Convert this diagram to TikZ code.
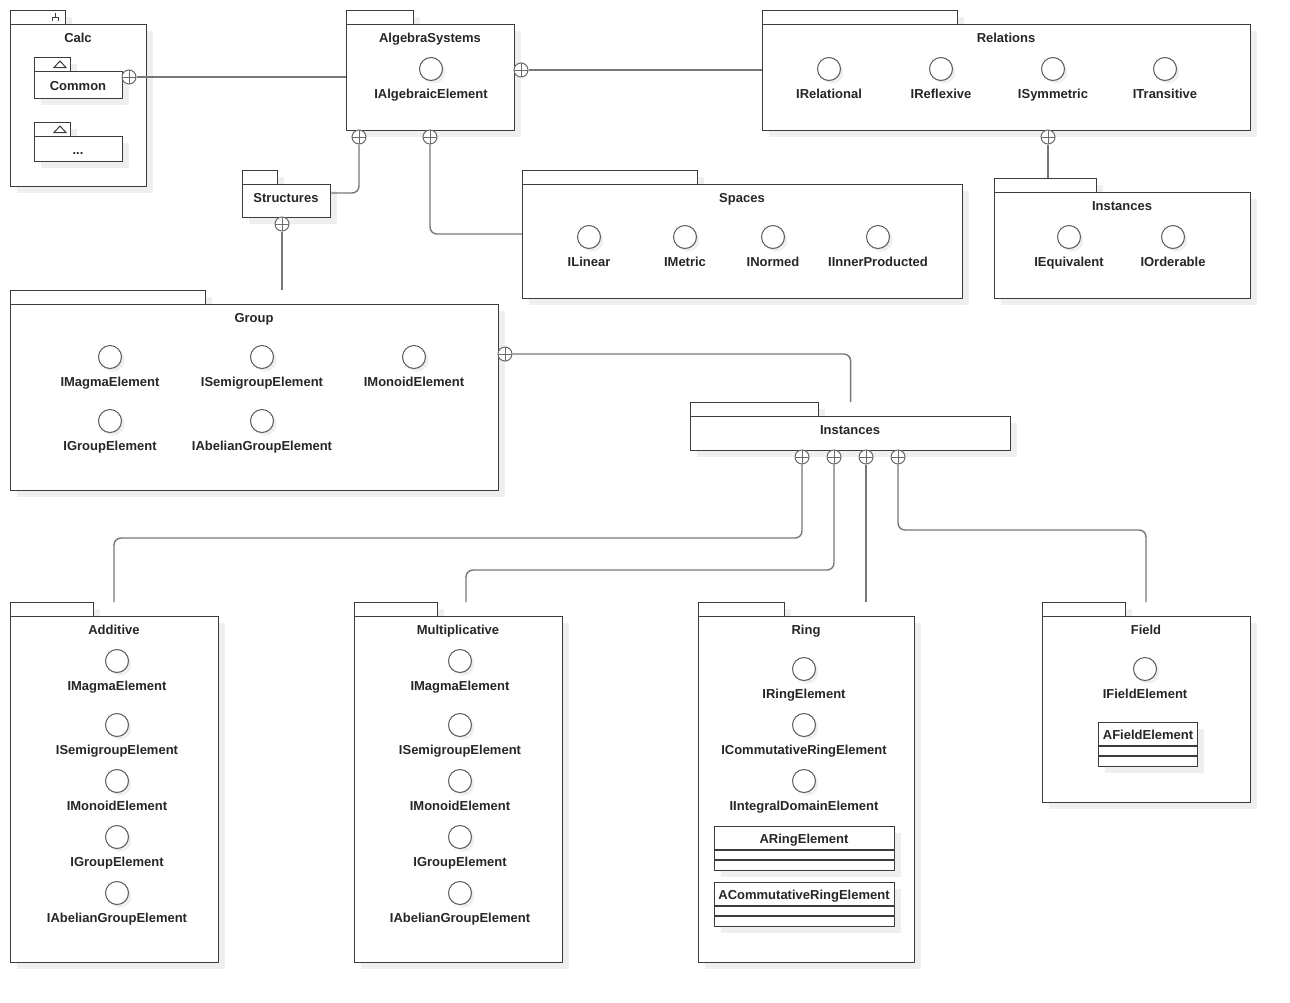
\documentclass[tikz,border=0pt]{standalone}
\usepackage{fontspec}
\setmainfont{Liberation Sans}
\usetikzlibrary{shadows,calc}
\definecolor{bord}{HTML}{3C3C3C}
\definecolor{conncol}{HTML}{777777}
\definecolor{shad}{HTML}{EFEFEF}
\tikzset{
  shd/.style={drop shadow={shadow xshift=6pt,shadow yshift=-6pt,fill=shad,opacity=1}},
  box/.style={draw=bord,line width=1.3pt,fill=white,shd,rectangle,inner sep=0pt,anchor=north west},
  ttl/.style={font=\fontsize{13}{15}\selectfont\bfseries,text=black!85,inner sep=0pt,text height=9.5pt,text depth=2.5pt,yshift=-2pt},
  lbl/.style={ttl},
  ifc/.style={circle,draw=bord!85,line width=1pt,fill=white,minimum size=23pt,inner sep=0pt,
    drop shadow={shadow xshift=3pt,shadow yshift=-3pt,fill=shad,opacity=1}},
  ctn/.style={circle,draw=conncol!90!black,line width=1pt,fill=white,minimum size=14pt,inner sep=0pt,
    path picture={\draw[conncol!90!black,line width=1pt] (path picture bounding box.north) -- (path picture bounding box.south)
      (path picture bounding box.west) -- (path picture bounding box.east);}},
  cn/.style={draw=conncol,line width=1.4pt,rounded corners=7pt},
  sep/.style={draw=bord,line width=1.3pt},
  sym/.style={draw=bord,line width=1pt}
}
% package: name, x1, ybodytop, tabx2, x2, y2
\newcommand\pkgbox[6]{%
  \node[box,minimum width={#4-#2},minimum height=14] (#1tab) at (#2,{#3-14}) {};
  \node[box,minimum width={#5-#2},minimum height={#6-#3}] (#1) at (#2,#3) {};
}
% interface: name, x, y, label
\newcommand\iface[4]{%
  \node[ifc] (#1) at (#2,#3) {};
  \node[lbl] (#1l) at (#2,{#3+24}) {#4};
}
% class box: name, x1, y1, x2, textx, text
\newcommand\clsbox[6]{%
  \node[box,minimum width={#4-#2},minimum height=44] (#1) at (#2,#3) {};
  \node[lbl] (#1t) at (#5,{#3+12}) {#6};
  \draw[sep] ($(#1.north west)+(0,24)$) -- ($(#1.north east)+(0,24)$);
  \draw[sep] ($(#1.north west)+(0,34)$) -- ($(#1.north east)+(0,34)$);
}
\begin{document}
\begin{tikzpicture}[x=1pt,y=-1pt]
\useasboundingbox (0,0) rectangle (1290,1002);
\fill[white] (0,0) rectangle (1290,1002);

% ---- Calc
\pkgbox{calc}{10}{24}{65}{146}{186}
\draw[sym] (55.5,13) -- (55.5,17.5) (52.5,20.5) -- (52.5,17.5) -- (58.5,17.5) -- (58.5,20.5);
\node[ttl] (calct) at (78,37) {Calc};
\pkgbox{common}{34}{71}{70}{122}{98}
\draw[sym] (54,67.5) -- (66,67.5) -- (60,61) -- cycle;
\node[ttl] (commont) at (78,85) {Common};
\pkgbox{dots}{34}{136}{70}{122}{161}
\draw[sym] (54,132.5) -- (66,132.5) -- (60,126) -- cycle;
\node[ttl] (dotst) at (78,149) {...};

% ---- AlgebraSystems
\pkgbox{alg}{346}{24}{413}{514}{130}
\node[ttl] (algt) at (430,37) {AlgebraSystems};
\iface{ialg}{431}{69}{IAlgebraicElement}

% ---- Relations
\pkgbox{rel}{762}{24}{957}{1250}{130}
\node[ttl] (relt) at (1006,37) {Relations};
\iface{irel}{829}{69}{IRelational}
\iface{iref}{941}{69}{IReflexive}
\iface{isym}{1053}{69}{ISymmetric}
\iface{itra}{1165}{69}{ITransitive}

% ---- Structures
\pkgbox{struct}{242}{184}{277}{330}{217}
\node[ttl] (structt) at (286,197) {Structures};

% ---- Spaces
\pkgbox{spaces}{522}{184}{697}{962}{298}
\node[ttl] (spacest) at (742,197) {Spaces};
\iface{ilin}{589}{237}{ILinear}
\iface{imet}{685}{237}{IMetric}
\iface{inor}{773}{237}{INormed}
\iface{iinn}{878}{237}{IInnerProducted}

% ---- Instances (relations)
\pkgbox{insta}{994}{192}{1096}{1250}{298}
\node[ttl] (instat) at (1122,205) {Instances};
\iface{iequ}{1069}{237}{IEquivalent}
\iface{iord}{1173}{237}{IOrderable}

% ---- Group
\pkgbox{group}{10}{304}{205}{498}{490}
\node[ttl] (groupt) at (254,317) {Group};
\iface{gmag}{110}{357}{IMagmaElement}
\iface{gsem}{262}{357}{ISemigroupElement}
\iface{gmon}{414}{357}{IMonoidElement}
\iface{ggrp}{110}{421}{IGroupElement}
\iface{gabe}{262}{421}{IAbelianGroupElement}

% ---- Instances (group)
\pkgbox{instb}{690}{416}{818}{1010}{450}
\node[ttl] (instbt) at (850,429) {Instances};

% ---- Additive
\pkgbox{add}{10}{616}{93}{218}{962}
\node[ttl] (addt) at (114,629) {Additive};
\iface{amag}{117}{661}{IMagmaElement}
\iface{asem}{117}{725}{ISemigroupElement}
\iface{amon}{117}{781}{IMonoidElement}
\iface{agrp}{117}{837}{IGroupElement}
\iface{aabe}{117}{893}{IAbelianGroupElement}

% ---- Multiplicative
\pkgbox{mul}{354}{616}{437}{562}{962}
\node[ttl] (mult) at (458,629) {Multiplicative};
\iface{mmag}{460}{661}{IMagmaElement}
\iface{msem}{460}{725}{ISemigroupElement}
\iface{mmon}{460}{781}{IMonoidElement}
\iface{mgrp}{460}{837}{IGroupElement}
\iface{mabe}{460}{893}{IAbelianGroupElement}

% ---- Ring
\pkgbox{ring}{698}{616}{784}{914}{962}
\node[ttl] (ringt) at (806,629) {Ring};
\iface{rrin}{804}{669}{IRingElement}
\iface{rcom}{804}{725}{ICommutativeRingElement}
\iface{rint}{804}{781}{IIntegralDomainElement}
\clsbox{aring}{714}{826}{894}{804}{ARingElement}
\clsbox{acring}{714}{882}{894}{804}{ACommutativeRingElement}

% ---- Field
\pkgbox{field}{1042}{616}{1125}{1250}{802}
\node[ttl] (fieldt) at (1146,629) {Field};
\iface{ffie}{1145}{669}{IFieldElement}
\clsbox{afield}{1098}{722}{1197}{1148}{AFieldElement}

% ---- containment symbols
\node[ctn] (cCm) at (129,77) {};
\node[ctn] (cAR) at (521,70) {};
\node[ctn] (cAS) at (359,137) {};
\node[ctn] (cASp) at (430,137) {};
\node[ctn] (cSt) at (282,224) {};
\node[ctn] (cRel) at (1048,137) {};
\node[ctn] (cGr) at (505,354) {};
\node[ctn] (cI1) at (802,457) {};
\node[ctn] (cI2) at (834,457) {};
\node[ctn] (cI3) at (866,457) {};
\node[ctn] (cI4) at (898,457) {};

% ---- connector end points
\coordinate (gtop) at (282,290);
\coordinate (iatop) at (1048,178);
\coordinate (jadd) at (114,538);
\coordinate (addtop) at (114,602);
\coordinate (jmul) at (466,570);
\coordinate (multop) at (466,602);
\coordinate (ringtop) at (866,602);
\coordinate (jfld) at (1146,530);
\coordinate (fldtop) at (1146,602);

% ---- connectors
\draw[cn] (cCm.east) -- (cCm.east -| alg.west);
\draw[cn] (cAR.east) -- (cAR.east -| rel.west);
\draw[cn] (cAS.south) |- ($(struct.north east)+(0,9)$);
\draw[cn] (cASp.south) |- ($(spaces.north west)+(0,50)$);
\draw[cn] (cSt.south) -- (gtop);
\draw[cn] (cRel.south) -- (iatop);
\draw[cn] (cGr.east) -| (instb.north |- instbtab.north);
\draw[cn] (cI1.south) |- (jadd) -- (addtop);
\draw[cn] (cI2.south) |- (jmul) -- (multop);
\draw[cn] (cI3.south) -- (ringtop);
\draw[cn] (cI4.south) |- (jfld) -- (fldtop);
\end{tikzpicture}
\end{document}
